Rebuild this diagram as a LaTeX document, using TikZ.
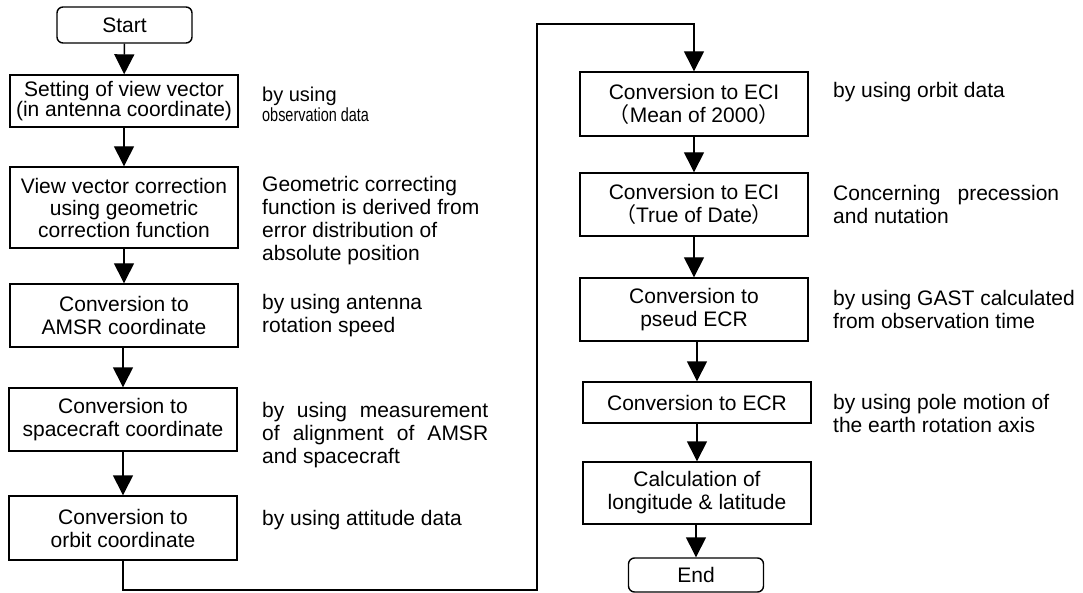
\documentclass[tikz,border=0pt]{standalone}
\usepackage{fontspec}
\setmainfont{Liberation Sans}
\newfontfamily\cjkfont{Noto Sans CJK JP}
\usetikzlibrary{arrows.meta}
\newcommand{\fwl}{{\cjkfont （}}
\newcommand{\fwr}{{\cjkfont ）}}
\begin{document}
\begin{tikzpicture}[x=1pt,y=-1pt,
  every node/.style={font=\fontsize{21}{23}\selectfont},
  box/.style={draw, line width=1.4pt, minimum width=228pt, inner sep=0pt, align=center},
  term/.style={box, rounded corners=6pt, minimum width=135pt},
  note/.style={anchor=north west, inner sep=0pt, align=left},
  flow/.style={line width=1.4pt, -{Triangle[width=20pt,length=20pt]}},
  link/.style={line width=1.4pt}]
\useasboundingbox (0,0) rectangle (1083,593);

% left column
\node[term, minimum height=36pt] (start) at (124.5,25) {Start};
\node[box, minimum height=52pt, font=\fontsize{21}{20}\selectfont] (b1) at (124,101)
  {Setting of view vector\\(in antenna coordinate)};
\node[box, minimum height=81pt, font=\fontsize{21}{22}\selectfont] (b2) at (124,207.5)
  {View vector correction\\using geometric\\correction function};
\node[box, minimum height=63pt] (b3) at (124,315.5) {Conversion to\\AMSR coordinate};
\node[box, minimum height=63pt] (b4) at (123,419.5) {Conversion to\\spacecraft coordinate};
\node[box, minimum height=64pt] (b5) at (123,528) {Conversion to\\orbit coordinate};

% right column
\node[box, minimum height=64pt] (r1) at (694,104) {Conversion to ECI\\\fwl Mean of 2000\fwr};
\node[box, minimum height=63pt] (r2) at (694,204.5) {Conversion to ECI\\\fwl True of Date\fwr};
\node[box, minimum height=63pt] (r3) at (694,309.5) {Conversion to\\pseud ECR};
\node[box, minimum height=41pt] (r4) at (697,402.5) {Conversion to ECR};
\node[box, minimum height=62pt] (r5) at (697,493) {Calculation of\\longitude \& latitude};
\node[term, minimum height=34pt] (end) at (696,575) {End};

% notes beside the steps
\node[note, font=\fontsize{20}{20}\selectfont] (n1) at (262,86.5)
  {\strut by using\\{\fontsize{19}{20}\selectfont\scalebox{0.76}[1]{observation data}}};
\node[note] (n2) at (262,175.4) {\strut Geometric correcting\\function is derived from\\error distribution of\\absolute position};
\node[note] (n3) at (262,293.4) {\strut by using antenna\\rotation speed};
\node[note] (n4) at (262,401.4) {\strut\makebox[226pt][s]{by using measurement}\\\makebox[226pt][s]{of alignment of AMSR}\\and spacecraft};
\node[note] (n5) at (262,509.4) {\strut by using attitude data};
\node[note] (m1) at (833,81.4) {\strut by using orbit data};
\node[note] (m2) at (833,184.4) {\strut\makebox[226pt][s]{Concerning precession}\\and nutation};
\node[note] (m3) at (833,289.4) {\strut by using GAST calculated\\from observation time};
\node[note] (m4) at (833,393.4) {\strut by using pole motion of\\the earth rotation axis};

% connectors
\draw[flow] (start) -- (b1);
\draw[flow] (b1) -- (b2);
\draw[flow] (b2) -- (b3);
\draw[flow] (b3.south -| b4.north) -- (b4.north);
\draw[flow] (b4) -- (b5);
\coordinate (lb) at (537,590);
\coordinate (lt) at (537,24);
\draw[flow] (b5.south) |- (lb) -- (lt) -| (r1.north);
\draw[flow] (r1) -- (r2);
\draw[flow] (r2) -- (r3);
\draw[flow] (r3.south -| r4.north) -- (r4.north);
\draw[flow] (r4) -- (r5);
\draw[flow] (r5.south -| end.north) -- (end.north);
\end{tikzpicture}
\end{document}
